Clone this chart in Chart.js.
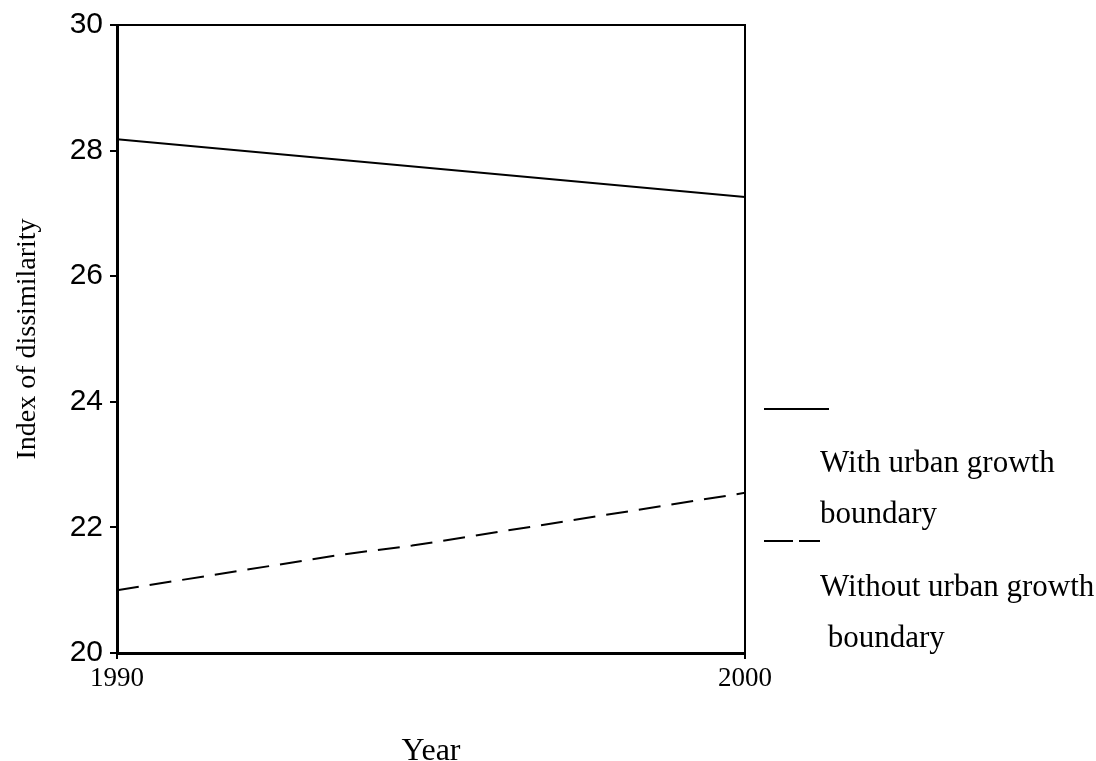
<!DOCTYPE html>
<html>
<head>
<meta charset="utf-8">
<title>Index of dissimilarity</title>
<script src="https://cdn.jsdelivr.net/npm/chart.js@4.4.1/dist/chart.umd.min.js"></script>
<style>
  html, body { margin: 0; padding: 0; background: #ffffff; }
  #c { display: block; }
</style>
</head>
<body>
<canvas id="c" width="1096" height="761"></canvas>
<script>
// ---- data ----
const xTickYears = [1990, 2000];
const yTickValues = [20, 22, 24, 26, 28, 30];
const withUGBYears = [1990, 2000];
const withUGBValues = [28.18, 27.26];
const withoutUGBYears = [1990, 1993.6, 1994.7, 2000];
const withoutUGBValues = [21.0, 21.57, 21.71, 22.55];
const seriesLabels = [
  ['With urban growth', 'boundary'],
  ['Without urban growth', ' boundary']
];
const xTitle = 'Year';
const yTitle = 'Index of dissimilarity';

const toPoints = (xs, ys) => xs.map((x, i) => ({ x: x, y: ys[i] }));

const SERIF = '"Liberation Serif", "Times New Roman", serif';
const SANS = '"Liberation Sans", Arial, sans-serif';

// frame (top/right border)
const framePlugin = {
  id: 'frame',
  afterDatasetsDraw(chart) {
    const { ctx, chartArea: a } = chart;
    ctx.save();
    ctx.strokeStyle = '#000';
    ctx.lineWidth = 2;
    ctx.beginPath();
    ctx.moveTo(a.left, a.top);
    ctx.lineTo(a.right, a.top);
    ctx.lineTo(a.right, a.bottom);
    ctx.stroke();
    ctx.restore();
  }
};

// legend at the right of the plot
const sideLegendPlugin = {
  id: 'sideLegend',
  afterDraw(chart) {
    const { ctx } = chart;
    const sampleX0 = 764;
    const textX = 820;
    const blocks = [
      { sampleY: 409, sampleX1: 829, dash: [], baselines: [472, 523] },
      { sampleY: 541, sampleX1: 820, dash: [29, 6], baselines: [596, 647] }
    ];
    ctx.save();
    blocks.forEach((b, i) => {
      const ds = chart.data.datasets[i];
      ctx.strokeStyle = ds.borderColor;
      ctx.lineWidth = 2;
      ctx.setLineDash(b.dash);
      ctx.beginPath();
      ctx.moveTo(sampleX0, b.sampleY);
      ctx.lineTo(b.sampleX1, b.sampleY);
      ctx.stroke();
      ctx.setLineDash([]);
      ctx.fillStyle = '#000';
      ctx.font = '31px ' + SERIF;
      ctx.textAlign = 'left';
      ctx.textBaseline = 'alphabetic';
      seriesLabels[i].forEach((line, j) => {
        ctx.fillText(line, textX, b.baselines[j]);
      });
    });
    ctx.restore();
  }
};

new Chart(document.getElementById('c'), {
  type: 'line',
  data: {
    datasets: [
      {
        label: seriesLabels[0].join(' '),
        data: toPoints(withUGBYears, withUGBValues),
        borderColor: '#000000',
        borderWidth: 2,
        pointRadius: 0,
        tension: 0,
        fill: false
      },
      {
        label: seriesLabels[1].join(' ').trim(),
        data: toPoints(withoutUGBYears, withoutUGBValues),
        borderColor: '#000000',
        borderWidth: 2,
        borderDash: [22, 11],
        pointRadius: 0,
        tension: 0,
        fill: false
      }
    ]
  },
  options: {
    responsive: false,
    animation: false,
    devicePixelRatio: 1,
    layout: { padding: { left: 0, right: 351, top: 24, bottom: 0 } },
    plugins: {
      legend: { display: false },
      tooltip: { enabled: false },
      title: { display: false }
    },
    scales: {
      x: {
        type: 'linear',
        min: xTickYears[0],
        max: xTickYears[xTickYears.length - 1],
        afterBuildTicks(scale) {
          scale.ticks = xTickYears.map(v => ({ value: v }));
        },
        afterFit(scale) { scale.height = 108; },
        ticks: {
          color: '#000',
          font: { family: SERIF, size: 27 },
          padding: 4,
          maxRotation: 0,
          autoSkip: false,
          callback: v => String(v)
        },
        grid: {
          display: true,
          drawOnChartArea: false,
          drawTicks: true,
          tickLength: 6,
          color: '#000',
          lineWidth: 2
        },
        border: { display: true, color: '#000', width: 3 },
        title: {
          display: true,
          text: xTitle,
          color: '#000',
          font: { family: SERIF, size: 32, lineHeight: 0.56 },
          padding: { top: 0, bottom: 0 }
        }
      },
      y: {
        type: 'linear',
        min: yTickValues[0],
        max: yTickValues[yTickValues.length - 1],
        afterBuildTicks(scale) {
          scale.ticks = yTickValues.map(v => ({ value: v }));
        },
        afterFit(scale) { scale.width = 117; },
        ticks: {
          color: '#000',
          font: { family: SANS, size: 30 },
          padding: 7,
          autoSkip: false
        },
        grid: {
          display: true,
          drawOnChartArea: false,
          drawTicks: true,
          tickLength: 7,
          color: '#000',
          lineWidth: 2
        },
        border: { display: true, color: '#000', width: 3 },
        title: {
          display: true,
          text: yTitle,
          color: '#000',
          font: { family: SERIF, size: 28 },
          padding: { top: 11, bottom: 0 }
        }
      }
    }
  },
  plugins: [framePlugin, sideLegendPlugin]
});
</script>
</body>
</html>
